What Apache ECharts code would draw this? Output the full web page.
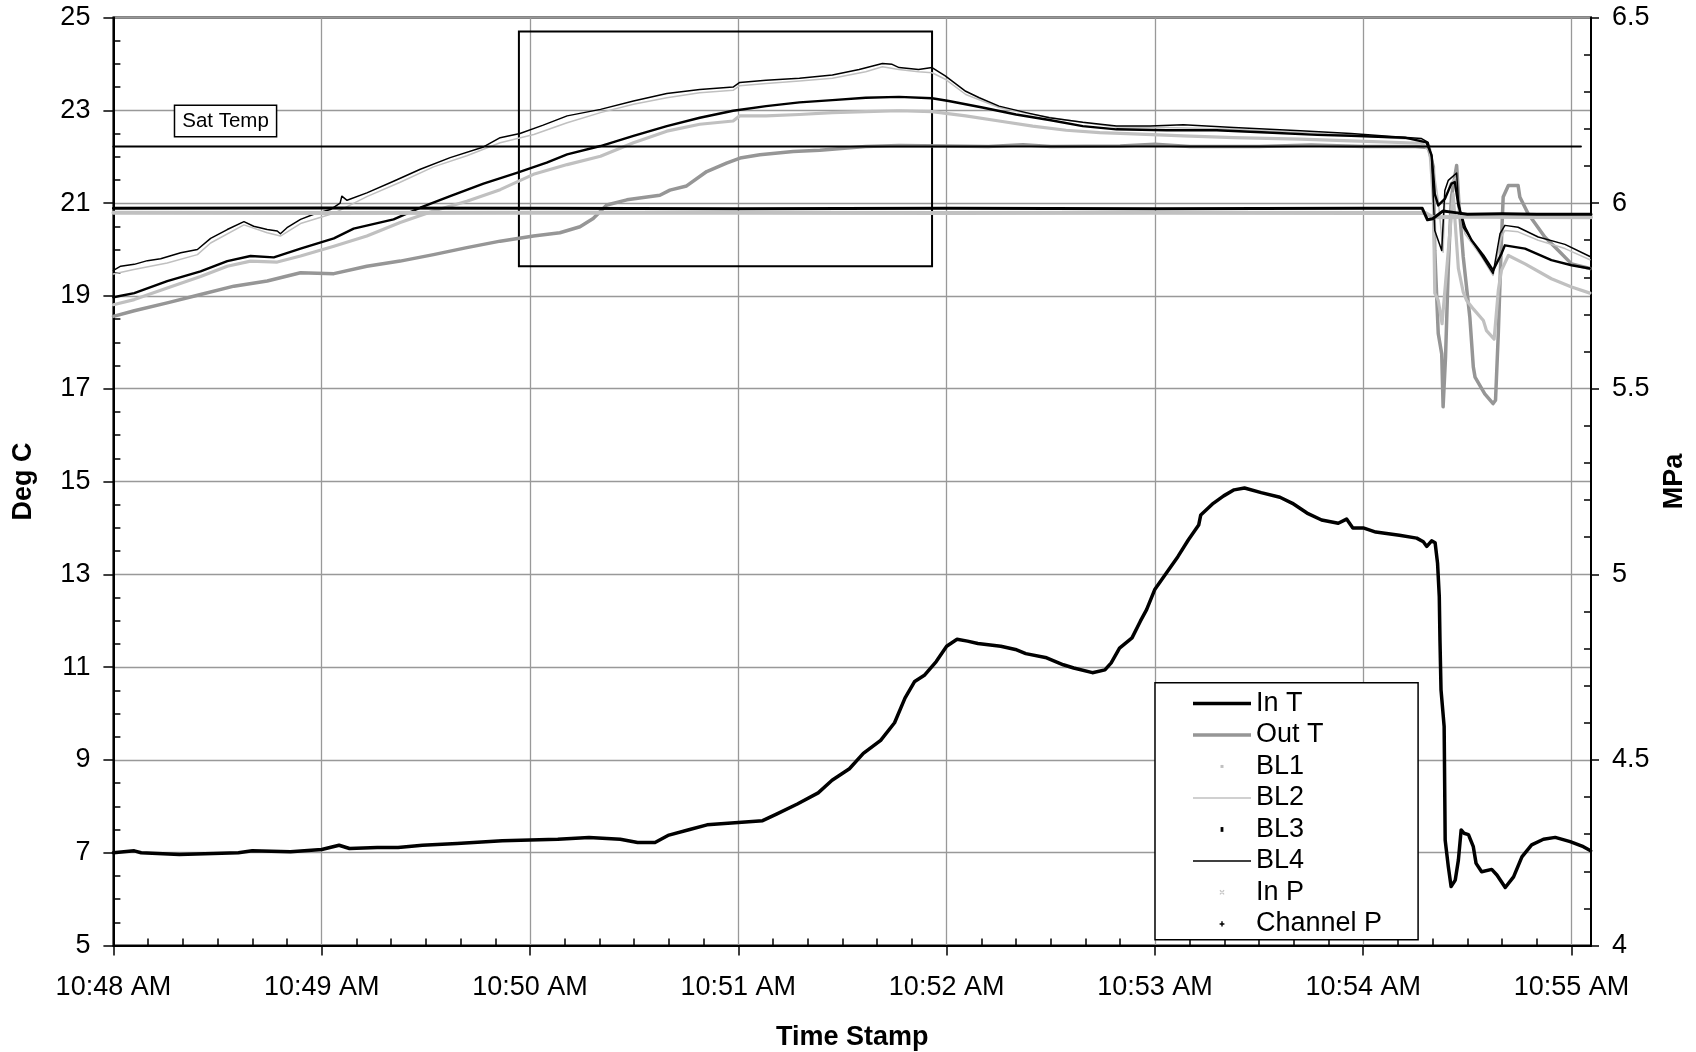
<!DOCTYPE html>
<html>
<head>
<meta charset="utf-8">
<title>Deg C / MPa vs Time Stamp</title>
<script src="https://cdn.jsdelivr.net/npm/echarts@6/dist/echarts.min.js"></script>
<style>
  html, body { margin: 0; padding: 0; background: #fff; }
  #chart { width: 1696px; height: 1052px; }
</style>
</head>
<body>
<div id="chart"></div>
<script>
// Time is in seconds after 10:48:00 AM; temperatures in Deg C, pressures in MPa.
const timeTicks = ['10:48 AM', '10:49 AM', '10:50 AM', '10:51 AM', '10:52 AM', '10:53 AM', '10:54 AM', '10:55 AM'];
const timeEnd = 425.6;

const inT = [
  [0, 7.0], [6, 7.04], [8, 7.0], [19, 6.96], [36, 7.0], [40, 7.04], [51, 7.02], [60, 7.07], [65, 7.16], [68, 7.09],
  [76, 7.11], [82, 7.11], [89, 7.16], [99, 7.2], [112, 7.26], [128, 7.29], [137, 7.33], [146, 7.29], [151, 7.22],
  [156, 7.22], [160, 7.38], [166, 7.5], [171, 7.6], [180, 7.65], [187, 7.69], [191, 7.83], [197, 8.05], [203, 8.29],
  [207, 8.56], [212, 8.81], [216, 9.14], [221, 9.42], [225, 9.8], [228, 10.33], [230.8, 10.69], [233.7, 10.83],
  [237, 11.12], [240, 11.45], [243, 11.6], [246, 11.56], [249, 11.51], [255.6, 11.45], [259.8, 11.38], [262.8, 11.29],
  [268.8, 11.2], [273.6, 11.05], [276.6, 10.98], [282, 10.88], [285.6, 10.94], [287.4, 11.09], [289.8, 11.41],
  [293.4, 11.63], [295.8, 11.99], [297.6, 12.24], [300, 12.68], [303.6, 13.06], [306.6, 13.38], [309.6, 13.74],
  [312.6, 14.06], [313.2, 14.28], [316.8, 14.53], [319.8, 14.69], [322.8, 14.82], [325.8, 14.86], [330.6, 14.76],
  [336, 14.66], [339.6, 14.53], [343.8, 14.32], [348, 14.17], [352.8, 14.1], [355.2, 14.19], [357, 14.0], [360, 14.0],
  [363.6, 13.91], [370.4, 13.84], [375.4, 13.78], [377.3, 13.7], [378.3, 13.6], [379.7, 13.72], [380.7, 13.68],
  [381.4, 13.24], [381.9, 12.52], [382.1, 11.58], [382.4, 10.51], [383.3, 9.72], [383.6, 7.27], [384.5, 6.7],
  [385.3, 6.27], [386.5, 6.41], [387.4, 6.84], [388.2, 7.49], [389, 7.42], [390.3, 7.39], [391.7, 7.13], [392.5, 6.77],
  [394.1, 6.59], [397, 6.64], [398.5, 6.52], [400.9, 6.25], [403.3, 6.48], [405.7, 6.91], [408.5, 7.17], [411.9, 7.29],
  [415.3, 7.33], [419.6, 7.24], [423.4, 7.13], [425.5, 7.04]
];

const outT = [
  [0, 18.56], [6, 18.68], [15.5, 18.85], [25.1, 19.03], [34.7, 19.21], [44.3, 19.32], [53.9, 19.5], [63.5, 19.48],
  [73, 19.64], [82.6, 19.75], [92.2, 19.89], [101.8, 20.04], [111.4, 20.18], [121, 20.29], [128.6, 20.36],
  [134.4, 20.49], [138.2, 20.67], [142.1, 20.96], [147.9, 21.07], [157.4, 21.17], [160.3, 21.28], [165.1, 21.37],
  [170.9, 21.68], [176.6, 21.86], [180.5, 21.97], [186.2, 22.04], [195.8, 22.11], [203.5, 22.14], [216.7, 22.22],
  [226.3, 22.24], [240, 22.23], [252, 22.22], [262, 22.26], [270, 22.22], [290, 22.23], [300, 22.27], [310, 22.22],
  [330, 22.22], [345, 22.25], [360, 22.22], [375, 22.22], [378.7, 22.2], [380.2, 21.78], [380.6, 19.98],
  [381.6, 18.19], [382.6, 17.75], [383, 16.61], [383.7, 17.68], [384.5, 19.62], [385.4, 21.13], [386.9, 21.81],
  [387.5, 21.06], [388.8, 19.84], [390.7, 18.54], [391.7, 17.47], [392.2, 17.25], [395, 16.89], [397.4, 16.68],
  [398.1, 16.75], [398.9, 18.19], [399.7, 19.98], [400.3, 21.13], [401.8, 21.38], [404.6, 21.38], [405.1, 21.13],
  [407.5, 20.77], [412.3, 20.27], [416.2, 19.98], [420, 19.69], [425.3, 19.59]
];

const bl1 = [
  [0, 18.81], [6, 18.92], [15.5, 19.17], [25.1, 19.42], [32.8, 19.64], [39.5, 19.75], [47.2, 19.73], [53.9, 19.86],
  [63.5, 20.07], [73, 20.29], [82.6, 20.58], [92.2, 20.83], [101.8, 21.04], [111.4, 21.29], [121, 21.62],
  [130.7, 21.83], [140.3, 22.01], [149.8, 22.3], [159.4, 22.55], [168.9, 22.7], [178.5, 22.77], [180.4, 22.88],
  [188, 22.88], [197.6, 22.91], [207.1, 22.95], [216.7, 22.97], [226.2, 22.99], [235.8, 22.97], [245.5, 22.88],
  [255.1, 22.77], [264.8, 22.66], [274.4, 22.57], [284.1, 22.52], [293.8, 22.49], [308.2, 22.45], [322.7, 22.41],
  [341.9, 22.38], [356.5, 22.34], [376.8, 22.29], [379.2, 22.13], [380.2, 21.06], [380.6, 19.06], [381.6, 18.9],
  [382.7, 18.4], [384.5, 19.98], [385.9, 21.2], [387.4, 19.59], [388.8, 19.08], [389.8, 18.9], [391.7, 18.72],
  [394.6, 18.47], [395.5, 18.25], [397.7, 18.07], [398.9, 19.12], [399.8, 19.55], [401.8, 19.87], [406.6, 19.69],
  [414.2, 19.37], [420, 19.19], [425.3, 19.06]
];

const bl2 = [
  [0, 19.47], [5.9, 19.57], [15.5, 19.71], [24.2, 19.89], [28, 20.14], [37.6, 20.53], [44.3, 20.36], [48.1, 20.29],
  [53.9, 20.56], [63.5, 20.78], [73, 21.14], [82.6, 21.45], [92.2, 21.78], [101.8, 22.02], [111.4, 22.3],
  [121.1, 22.48], [130.7, 22.73], [140.3, 22.95], [149.8, 23.13], [159.4, 23.27], [168.9, 23.38], [178.5, 23.43],
  [180.4, 23.53], [188, 23.58], [197.6, 23.63], [207.1, 23.69], [216.7, 23.83], [221.5, 23.94], [226.2, 23.88],
  [231.9, 23.83], [235.8, 23.81], [239.6, 23.67], [245.5, 23.34], [255.1, 23.06], [264.8, 22.91], [274.4, 22.79],
  [288.9, 22.64], [303.4, 22.63], [322.7, 22.59], [341.9, 22.52], [356.4, 22.47], [376.8, 22.36], [379.2, 22.24],
  [380.2, 21.78], [381.6, 21.06], [383, 19.94], [383.5, 21.06], [385, 21.42], [386.9, 21.56], [387.4, 20.91],
  [389.3, 20.34], [394.1, 19.84], [397.4, 19.44], [399.8, 20.27], [400.8, 20.41], [404.6, 20.38], [410.4, 20.2],
  [418.1, 20.02], [425.3, 19.78]
];

const bl3 = [
  [0, 18.97], [6, 19.06], [15.5, 19.32], [25.1, 19.53], [32.8, 19.75], [39.5, 19.86], [46.2, 19.83], [53.9, 20.02],
  [63.5, 20.24], [69.2, 20.45], [80.7, 20.65], [88.4, 20.9], [97, 21.15], [106.6, 21.42], [116.2, 21.65],
  [124.8, 21.87], [130.7, 22.05], [140.3, 22.23], [149.8, 22.45], [159.4, 22.66], [168.9, 22.84], [178.5, 22.99],
  [188, 23.09], [197.6, 23.17], [207.1, 23.22], [216.7, 23.27], [226.3, 23.29], [235.8, 23.26], [240.6, 23.2],
  [250.3, 23.06], [260, 22.91], [269.6, 22.79], [279.2, 22.66], [288.9, 22.59], [303.4, 22.57], [317.8, 22.57],
  [332.3, 22.52], [346.8, 22.47], [356.5, 22.45], [372, 22.41], [378.2, 22.31], [379.7, 22.03], [380.6, 21.2],
  [381.6, 20.95], [383.5, 21.09], [385.4, 21.42], [386.4, 21.45], [387.4, 20.95], [389.3, 20.48], [391.2, 20.2],
  [394.6, 19.87], [397.4, 19.55], [399.8, 19.91], [400.8, 20.09], [406.6, 20.02], [414.2, 19.77], [420, 19.66],
  [425.3, 19.59]
];

const bl4 = [
  [0, 19.55], [2.1, 19.64], [6, 19.68], [9.8, 19.76], [13.6, 19.8], [19.4, 19.93], [24.2, 20.0], [28, 20.24],
  [32.8, 20.43], [37.6, 20.6], [40.4, 20.5], [44.3, 20.43], [47.2, 20.4], [48.1, 20.34], [50, 20.47], [53.9, 20.65],
  [57.7, 20.76], [62.5, 20.86], [65.3, 21.0], [65.8, 21.15], [67.3, 21.06], [73, 21.22], [80.7, 21.47], [88.4, 21.73],
  [97, 21.98], [106.6, 22.21], [111.4, 22.41], [117.1, 22.5], [123.8, 22.68], [130.7, 22.88], [140.3, 23.02],
  [149.8, 23.2], [159.4, 23.36], [168.9, 23.45], [178.5, 23.5], [180.4, 23.6], [188, 23.65], [197.6, 23.69],
  [207.1, 23.76], [214.8, 23.88], [221.5, 24.01], [224.3, 23.99], [226.3, 23.92], [231.9, 23.88], [235.8, 23.92],
  [239.6, 23.74], [245.5, 23.41], [249.4, 23.27], [255.1, 23.09], [262.9, 22.95], [269.6, 22.84], [279.2, 22.74],
  [288.9, 22.66], [298.6, 22.66], [308.2, 22.69], [322.7, 22.63], [341.9, 22.56], [356.5, 22.5], [367.2, 22.44],
  [376.8, 22.39], [378.7, 22.31], [379.7, 21.99], [380.2, 21.06], [380.6, 20.41], [382.6, 19.98], [383.5, 21.27],
  [384.5, 21.49], [386.9, 21.65], [387.4, 21.06], [388.8, 20.48], [391.2, 20.2], [394.1, 19.87], [397.4, 19.48],
  [399.4, 20.34], [400.8, 20.52], [404.6, 20.48], [410.4, 20.27], [418.1, 20.11], [425.3, 19.85]
];

const inP = [
  [0, 5.974], [60, 5.973], [120, 5.974], [180, 5.974], [240, 5.973], [300, 5.974], [360, 5.973], [378, 5.973],
  [380, 5.962], [390, 5.963], [425.6, 5.962]
];

const channelP = [
  [0, 5.986], [60, 5.987], [120, 5.986], [180, 5.985], [240, 5.986], [300, 5.985], [360, 5.986], [377, 5.986],
  [378.5, 5.955], [380, 5.958], [383, 5.979], [386, 5.975], [390, 5.97], [400, 5.971], [410, 5.97], [425.6, 5.97]
];

// Saturation temperature reference line, its label anchor and the highlighted time window
const satTemp = 22.22;
const satTempSpan = [0, 422.7];
const satTempLabelAt = [32.3, 22.77];
const windowCorners = [[116.8, 24.7], [235.8, 19.64]];

const FONT = '"Liberation Sans", Arial, Helvetica, sans-serif';
const GRID_GRAY = '#999999';
const LIGHT = '#c0c0c0';
const MID = '#969696';

const minorTimeTicks = [];
for (let s = 10; s < timeEnd; s += 10) {
  if (s % 60 !== 0) minorTimeTicks.push(s);
}
const majorTimeTicks = timeTicks.map((_, i) => i * 60);

function line(name, data, color, width, yAxisIndex) {
  return {
    name, type: 'line', data, yAxisIndex: yAxisIndex || 0,
    symbol: 'none', showSymbol: false, silent: true,
    lineStyle: { color, width, join: 'round', cap: 'round' },
    itemStyle: { color },
    emphasis: { disabled: true }
  };
}

// Legend icons, laid out in a 58 x 10 box
const ICON_BOX = 'path://M0,0M58,10';
const icons = {
  thick: ICON_BOX + 'M0,3.25h58v3.5h-58z',
  thin: ICON_BOX + 'M0,4.3h58v1.4h-58z',
  dotSmall: ICON_BOX + 'M27.5,3.5h3v3h-3z',
  dotTall: ICON_BOX + 'M27.6,2.6h2.8v4.8h-2.8z',
  cross: ICON_BOX + 'M26.5,3.2l0.8,-0.8l4.2,4.2l-0.8,0.8z M31.5,3.2l-0.8,-0.8l-4.2,4.2l0.8,0.8z',
  plus: ICON_BOX + 'M28.3,2.4h1.4v5.2h-1.4z M26.6,4.3h4.8v1.4h-4.8z'
};
function legendItem(name, icon, color) {
  return { name, icon, itemStyle: { color, borderWidth: 0, opacity: 1 } };
}

const satSeries = line('Sat Temp', [[satTempSpan[0], satTemp], [satTempSpan[1], satTemp]], '#000', 2);
satSeries.markArea = {
  silent: true,
  itemStyle: { color: 'rgba(0,0,0,0)', borderColor: '#000', borderWidth: 2 },
  data: [[{ coord: windowCorners[0] }, { coord: windowCorners[1] }]]
};
satSeries.markPoint = {
  silent: true,
  symbol: 'rect', symbolSize: 1,
  itemStyle: { color: 'rgba(0,0,0,0)' },
  label: {
    show: true, position: 'inside', formatter: 'Sat Temp',
    fontFamily: FONT, fontSize: 20.5, color: '#000',
    backgroundColor: '#fff', borderColor: '#000', borderWidth: 1.5,
    padding: [5, 7, 4, 7]
  },
  data: [{ coord: satTempLabelAt }]
};

const axisLabelStyle = { fontFamily: FONT, fontSize: 27, color: '#000' };
const axisNameStyle = { fontFamily: FONT, fontSize: 27, fontWeight: 'bold', color: '#000' };

const option = {
  animation: false,
  backgroundColor: '#fff',
  grid: {
    left: 113.4, right: 105, top: 17.5, bottom: 106.5,
    show: true, borderColor: '#000', borderWidth: 2, backgroundColor: 'transparent',
    containLabel: false, outerBoundsMode: 'none'
  },
  legend: {
    orient: 'vertical', left: 1155, top: 682.7,
    padding: [5, 36, 0, 38], itemGap: 0, itemWidth: 58, itemHeight: 10,
    borderColor: '#000', borderWidth: 1.5, backgroundColor: '#fff',
    selectedMode: false,
    textStyle: { fontFamily: FONT, fontSize: 27, color: '#000', lineHeight: 31.5 },
    data: [
      legendItem('In T', icons.thick, '#000'),
      legendItem('Out T', icons.thick, MID),
      legendItem('BL1', icons.dotSmall, LIGHT),
      legendItem('BL2', icons.thin, LIGHT),
      legendItem('BL3', icons.dotTall, '#000'),
      legendItem('BL4', icons.thin, '#000'),
      legendItem('In P', icons.cross, LIGHT),
      legendItem('Channel P', icons.plus, '#000')
    ]
  },
  xAxis: [
    {
      type: 'value', position: 'bottom', min: 0, max: timeEnd, interval: 60,
      name: 'Time Stamp', nameLocation: 'middle', nameGap: 79, nameMoveOverlap: false,
      nameTextStyle: axisNameStyle,
      axisLine: { show: true, onZero: false, lineStyle: { color: '#000', width: 2 } },
      axisTick: { show: true, inside: false, length: 10, customValues: majorTimeTicks, lineStyle: { color: '#000', width: 1.5 } },
      axisLabel: {
        ...axisLabelStyle, margin: 29, customValues: majorTimeTicks,
        formatter: (v) => timeTicks[Math.round(v / 60)] || ''
      },
      splitLine: { show: true, lineStyle: { color: GRID_GRAY, width: 1.3 } },
      minorTick: { show: false }
    },
    {
      type: 'value', position: 'bottom', min: 0, max: timeEnd, interval: 10,
      axisLine: { show: false },
      axisTick: { show: true, inside: true, length: 7, customValues: minorTimeTicks, lineStyle: { color: '#000', width: 1.5 } },
      axisLabel: { show: false },
      splitLine: { show: false }
    }
  ],
  yAxis: [
    {
      type: 'value', position: 'left', min: 5, max: 25, interval: 2,
      name: 'Deg C', nameLocation: 'middle', nameGap: 76, nameRotate: 90, nameMoveOverlap: false,
      nameTextStyle: axisNameStyle,
      axisLine: { show: true, onZero: false, lineStyle: { color: '#000', width: 2 } },
      axisTick: { show: true, inside: false, length: 10, lineStyle: { color: '#000', width: 1.5 } },
      minorTick: { show: true, splitNumber: 4, length: -7, lineStyle: { color: '#000', width: 1.5 } },
      axisLabel: { ...axisLabelStyle, margin: 23 },
      splitLine: { show: true, lineStyle: { color: GRID_GRAY, width: 1.3 } }
    },
    {
      type: 'value', position: 'right', min: 4, max: 6.5, interval: 0.5,
      name: 'MPa', nameLocation: 'middle', nameGap: 70, nameRotate: 90, nameMoveOverlap: false,
      nameTextStyle: axisNameStyle,
      axisLine: { show: true, onZero: false, lineStyle: { color: '#000', width: 2 } },
      axisTick: { show: true, inside: false, length: 8, lineStyle: { color: '#000', width: 1.5 } },
      minorTick: { show: true, splitNumber: 5, length: -7, lineStyle: { color: '#000', width: 1.5 } },
      axisLabel: { ...axisLabelStyle, margin: 21, formatter: (v) => String(v) },
      splitLine: { show: false }
    },
    {
      type: 'value', position: 'right', min: 4, max: 6.5, interval: 0.5,
      axisLine: { show: false },
      axisTick: { show: true, inside: true, length: 7, lineStyle: { color: '#000', width: 1.5 } },
      axisLabel: { show: false },
      splitLine: { show: false }
    }
  ],
  series: [
    line('In T', inT, '#000', 3.5),
    line('Out T', outT, MID, 3.5),
    line('BL1', bl1, LIGHT, 3.2),
    line('BL2', bl2, LIGHT, 1.5),
    line('BL3', bl3, '#000', 2.4),
    line('BL4', bl4, '#000', 1.5),
    line('In P', inP, LIGHT, 4, 1),
    line('Channel P', channelP, '#000', 3, 1),
    satSeries
  ]
};

const chart = echarts.init(document.getElementById('chart'), null, { renderer: 'canvas' });
chart.setOption(option);
</script>
</body>
</html>
